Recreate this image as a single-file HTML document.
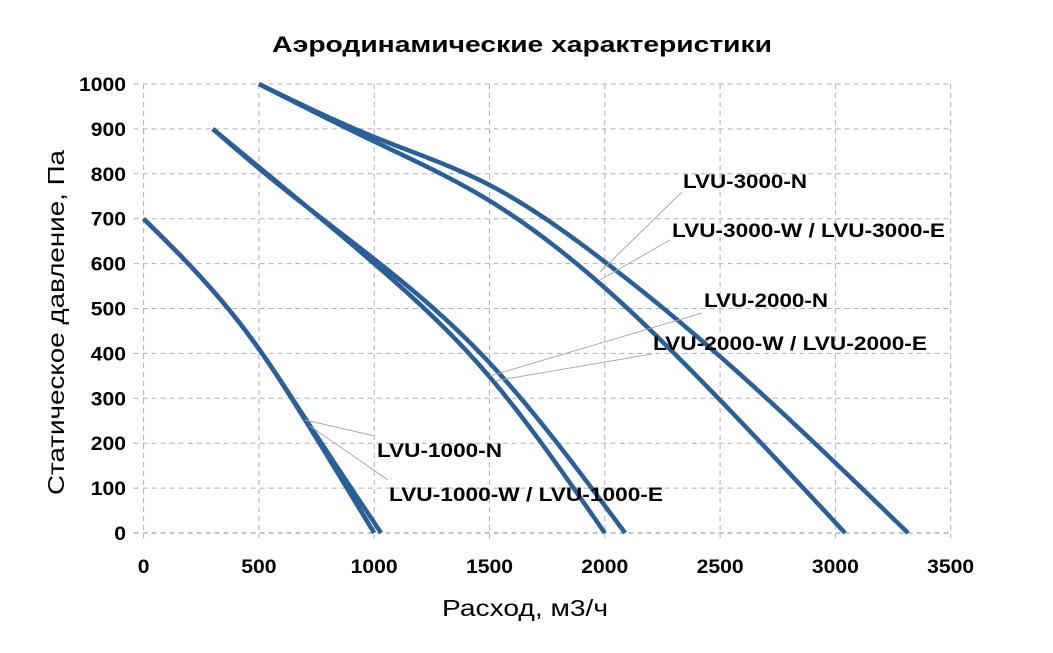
<!DOCTYPE html>
<html><head><meta charset="utf-8"><style>
body{margin:0;background:#fff;}
svg{display:block;font-family:"Liberation Sans",Arial,sans-serif;}
</style></head><body>
<svg id="s" width="1053" height="653" viewBox="0 0 1053 653">
<g id="grid" stroke="#b0b0b0" stroke-width="1" stroke-dasharray="5,4" fill="none"></g>
<g id="curves" stroke="#2a5f98" stroke-width="4.5" fill="none" stroke-linecap="butt" stroke-linejoin="round"></g>
<g stroke="#aaa" stroke-width="1">
<line x1="600" y1="272" x2="682" y2="192"/>
<line x1="600" y1="280" x2="670" y2="240"/>
<line x1="490" y1="376" x2="702" y2="313"/>
<line x1="494" y1="381" x2="652" y2="354"/>
<line x1="305" y1="420" x2="375" y2="436"/>
<line x1="310" y1="426" x2="388" y2="480"/>
</g>
<g font-weight="bold" font-size="19" fill="#000">
<text x="683" y="188" textLength="124" lengthAdjust="spacingAndGlyphs">LVU-3000-N</text>
<text x="672" y="237" textLength="273" lengthAdjust="spacingAndGlyphs">LVU-3000-W / LVU-3000-E</text>
<text x="704" y="307" textLength="124" lengthAdjust="spacingAndGlyphs">LVU-2000-N</text>
<text x="653" y="350" textLength="274" lengthAdjust="spacingAndGlyphs">LVU-2000-W / LVU-2000-E</text>
<text x="377" y="457" textLength="125" lengthAdjust="spacingAndGlyphs">LVU-1000-N</text>
<text x="389" y="501" textLength="274" lengthAdjust="spacingAndGlyphs">LVU-1000-W / LVU-1000-E</text>
</g>
<text x="272" y="52" font-size="22" font-weight="bold" textLength="500" lengthAdjust="spacingAndGlyphs">Аэродинамические характеристики</text>
<text x="442" y="616" font-size="23" textLength="166" lengthAdjust="spacingAndGlyphs">Расход, м3/ч</text>
<text transform="translate(64,495) rotate(-90)" font-size="23" textLength="345" lengthAdjust="spacingAndGlyphs">Статическое давление, Па</text>
<g id="yl" font-size="19" font-weight="bold"></g>
<g id="xl" font-size="19" font-weight="bold"></g>
</svg>
<script>
var X=function(v){return 143.6+v*0.2306;},Y=function(p){return 533-p*0.449;};
var ns="http://www.w3.org/2000/svg";
function el(p,t,a,txt){var e=document.createElementNS(ns,t);for(var k in a)e.setAttribute(k,a[k]);if(txt!=null)e.textContent=txt;document.getElementById(p).appendChild(e);return e;}
for(var i=0;i<=7;i++){el("grid","line",{x1:X(i*500),y1:Y(1000),x2:X(i*500),y2:Y(0)+5});
 var s=String(i*500),w=s.length*11.75;el("xl","text",{x:X(i*500)-w/2,y:573,textLength:w,lengthAdjust:"spacingAndGlyphs"},s);}
for(var j=0;j<=10;j++){el("grid","line",{x1:X(0)-10,y1:Y(j*100),x2:X(3500),y2:Y(j*100),stroke:j==0?"#888":"#b0b0b0"});
 var s=String(j*100),w=s.length*11.75;el("yl","text",{x:126-w,y:Y(j*100)+7,textLength:w,lengthAdjust:"spacingAndGlyphs"},s);}
function spline(pts){
 var n=pts.length,x=pts.map(function(p){return p[0]}),y=pts.map(function(p){return p[1]});
 var h=[],a=[],l=[1],mu=[0],z=[0],c=new Array(n).fill(0),b=[],d=[];
 for(var i=0;i<n-1;i++)h[i]=x[i+1]-x[i];
 for(var i=1;i<n-1;i++)a[i]=3/h[i]*(y[i+1]-y[i])-3/h[i-1]*(y[i]-y[i-1]);
 for(var i=1;i<n-1;i++){l[i]=2*(x[i+1]-x[i-1])-h[i-1]*mu[i-1];mu[i]=h[i]/l[i];z[i]=(a[i]-h[i-1]*z[i-1])/l[i];}
 z[n-1]=0;
 for(var j=n-2;j>=0;j--){c[j]=(j>0?z[j]:0)-mu[j]*c[j+1];b[j]=(y[j+1]-y[j])/h[j]-h[j]*(c[j+1]+2*c[j])/3;d[j]=(c[j+1]-c[j])/(3*h[j]);}
 var out=[];
 for(var i=0;i<n-1;i++){for(var t=0;t<h[i];t+=5){out.push([x[i]+t,y[i]+b[i]*t+c[i]*t*t+d[i]*t*t*t]);}}
 out.push(pts[n-1]);
 el("curves","polyline",{points:out.map(function(q){return X(q[0]).toFixed(2)+","+Y(q[1]).toFixed(2)}).join(" ")});
}
spline([[0,700],[300,540],[500,410],[700,252],[1000,0]]);
spline([[0,700],[300,540],[500,410],[700,256],[1030,0]]);
spline([[300,900],[500,815],[1000,600],[1500,348],[2000,0]]);
spline([[300,900],[500,812],[1000,610],[1500,379],[2088,0]]);
spline([[500,1000],[1000,872],[1500,740],[2000,546],[2500,296],[3042,0]]);
spline([[500,1000],[1000,882],[1500,775],[2000,604],[2500,393],[3315,0]]);
</script>
</body></html>
